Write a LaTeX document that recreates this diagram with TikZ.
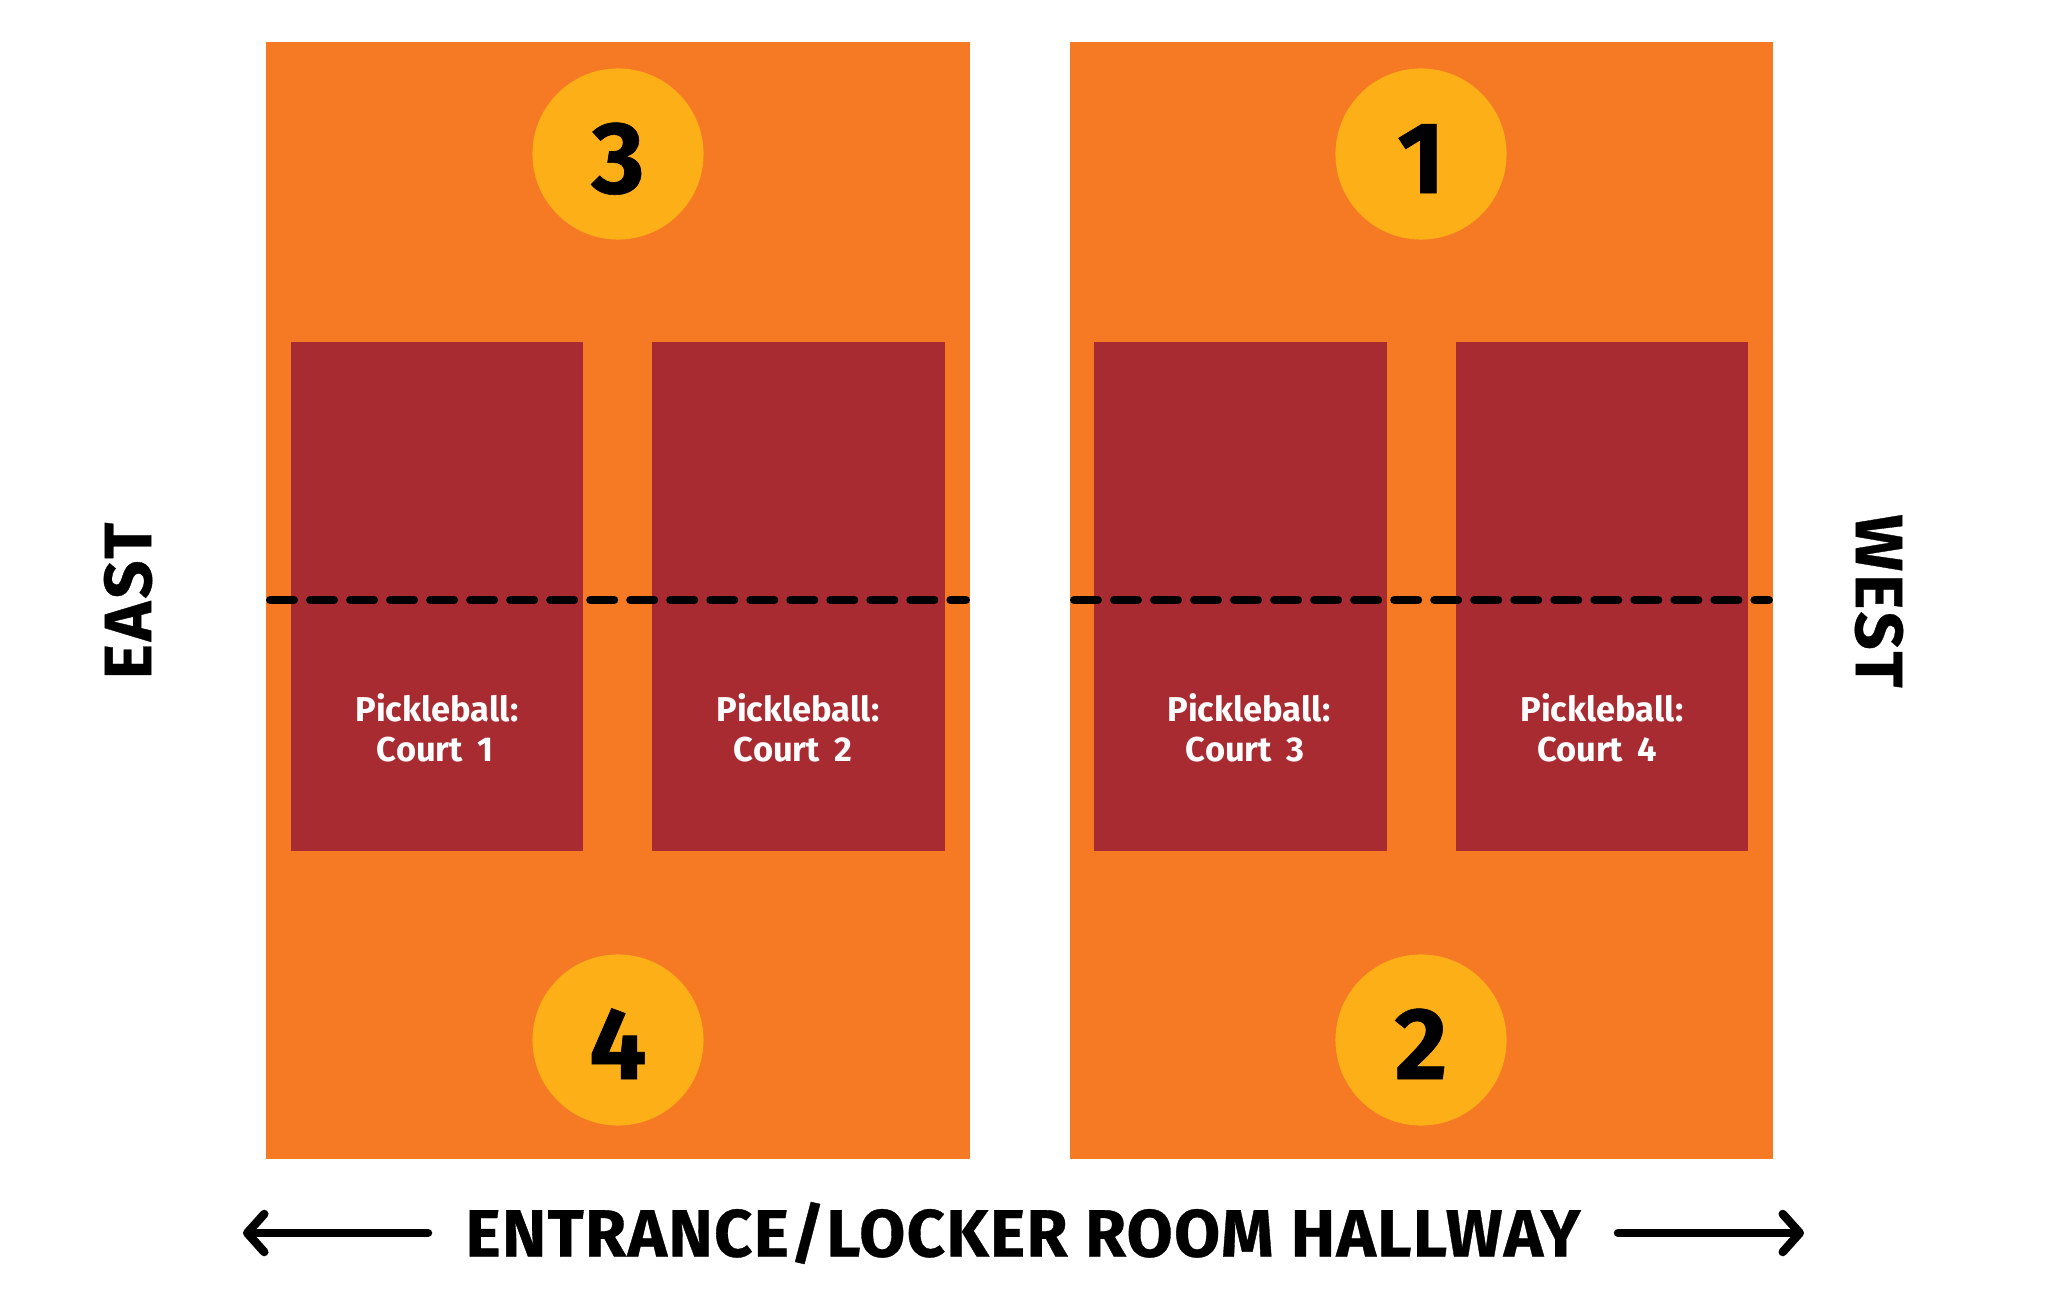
\documentclass[tikz,border=0pt]{standalone}
\usepackage{fontspec}
\setmainfont{Fira Sans}
\usetikzlibrary{arrows.meta,positioning}
\definecolor{hallorange}{HTML}{F67A23}
\definecolor{courtred}{HTML}{A92B32}
\definecolor{spotyellow}{HTML}{FDAF17}
\tikzset{
	hall/.style = {fill=hallorange},
	court/.style = {fill=courtred},
	spot/.style = {circle, fill=spotyellow, minimum size=1.71cm, inner sep=0pt, text height=0.78cm, text depth=0cm, font=\fontsize{29}{29}\selectfont\bfseries\addfontfeatures{FakeBold=0.6}},
	courtlabel/.style = {text=white, align=center, inner sep=0pt, font=\fontsize{9.8}{11.5}\selectfont\bfseries},
	sidelabel/.style = {inner sep=0pt, font=\fontsize{19}{19}\selectfont\bfseries\addfontfeatures{LetterSpace=4.5,FakeBold=0.5}},
	halllabel/.style = {inner sep=0pt, font=\fontsize{19}{19}\selectfont\bfseries\addfontfeatures{LetterSpace=2,FakeBold=0.5}},
	netline/.style = {line width=0.08cm, line cap=round, dash pattern=on 0.24cm off 0.16cm},
	hallarrow/.style = {line width=0.085cm, line cap=round, -{Straight Barb[round,length=0.17cm,width=0.38cm,line width=0.085cm]}}
}
\begin{document}
\begin{tikzpicture}[x=0.01cm, y=-0.01cm]
	\useasboundingbox (0,0) rectangle (2050,1300);
	
	\fill[hall] (266,42) rectangle (970,1159);
	\fill[hall] (1070,42) rectangle (1773,1159);
	
	\fill[court] (291,342) rectangle (583,851);
	\fill[court] (652,342) rectangle (945,851);
	\fill[court] (1094,342) rectangle (1387,851);
	\fill[court] (1456,342) rectangle (1748,851);
	
	\node[spot] (spot3) at (618,154) {3};
	\node[spot] (spot1) at (1421,154) {1};
	\node[spot] (spot4) at (618,1040) {4};
	\node[spot] (spot2) at (1421,1040) {2};
	
	\coordinate (netAl) at (270,600);
	\coordinate (netAr) at (966,600);
	\coordinate (netBl) at (1074,600);
	\coordinate (netBr) at (1769,600);
	\draw[netline] (netAl) -- (netAr);
	\draw[netline] (netBl) -- (netBr);
	
	\node[courtlabel] (court1) at (437,728) {Pickleball:\\Court\hspace{0.06cm} 1\hspace*{0.04cm}};
	\node[courtlabel] (court2) at (798,728) {Pickleball:\\Court\hspace{0.06cm} 2\hspace*{0.1cm}};
	\node[courtlabel] (court3) at (1249,728) {Pickleball:\\Court\hspace{0.06cm} 3\hspace*{0.08cm}};
	\node[courtlabel] (court4) at (1602,728) {Pickleball:\\Court\hspace{0.06cm} 4\hspace*{0.1cm}};
	
	\node[sidelabel, rotate=90] (east) at (128,601) {EAST};
	\node[sidelabel, rotate=-90] (west) at (1879,601) {WEST};
	\node[halllabel] (hallway) at (1023,1233) {ENTRANCE/LOCKER ROOM HALLWAY};
	
	\coordinate (arrowLa) at (428,1233);
	\coordinate (arrowLb) at (243,1233);
	\coordinate (arrowRa) at (1618,1233);
	\coordinate (arrowRb) at (1804,1233);
	\draw[hallarrow] (arrowLa) -- (arrowLb);
	\draw[hallarrow] (arrowRa) -- (arrowRb);
\end{tikzpicture}
\end{document}
